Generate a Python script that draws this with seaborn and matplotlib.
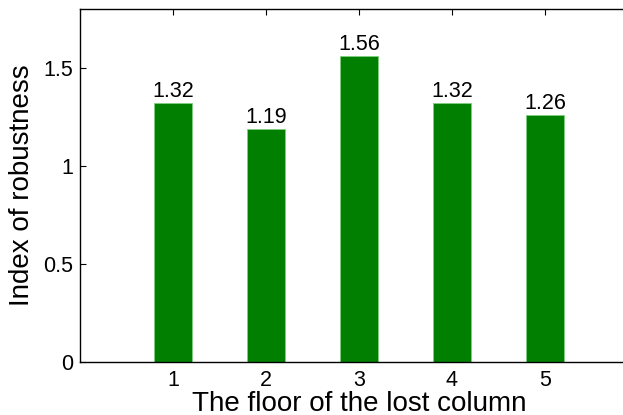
import matplotlib
matplotlib.use("Agg")
import matplotlib.pyplot as plt
import seaborn as sns
import pandas as pd

floors = ["1", "2", "3", "4", "5"]
robustness = [1.32, 1.19, 1.56, 1.32, 1.26]
labels = ["1.32", "1.19", "1.56", "1.32", "1.26"]
yticks = [0, 0.5, 1, 1.5]
ytick_labels = ["0", "0.5", "1", "1.5"]

sns.set_theme(style="white")
plt.rcParams['font.family'] = ['Liberation Sans', 'DejaVu Sans']

df = pd.DataFrame({"floor": floors, "value": robustness})

fig = plt.figure(figsize=(6.23, 4.15), dpi=100)
ax = fig.add_axes([80/623, 1 - 362/415, 558/623, 353/415])
sns.barplot(data=df, x="floor", y="value", color="#007F00", saturation=1,
            width=0.41, edgecolor="#7fcf7f", linewidth=0.6, ax=ax)

for i, (v, t) in enumerate(zip(robustness, labels)):
    ax.text(i, v + 0.005, t, ha="center", va="bottom", fontsize=15.5, color="black")

ax.set_xlim(-1, 5)
ax.set_ylim(0, 1.8)
ax.set_yticks(yticks)
ax.set_yticklabels(ytick_labels)
ax.tick_params(axis="both", direction="in", length=4, width=0.8, labelsize=15.5,
               colors="black", top=True, right=False, left=True, bottom=True)
ax.tick_params(axis="x", pad=6)
ax.tick_params(axis="y", pad=5)
for s in ax.spines.values():
    s.set_color("black")
    s.set_linewidth(1.0)
ax.set_xlabel("The floor of the lost column", fontsize=20, color="black", labelpad=0)
ax.set_ylabel("Index of robustness", fontsize=20, color="black", labelpad=6)
ax.grid(False)

fig.savefig("out.png", dpi=100)
